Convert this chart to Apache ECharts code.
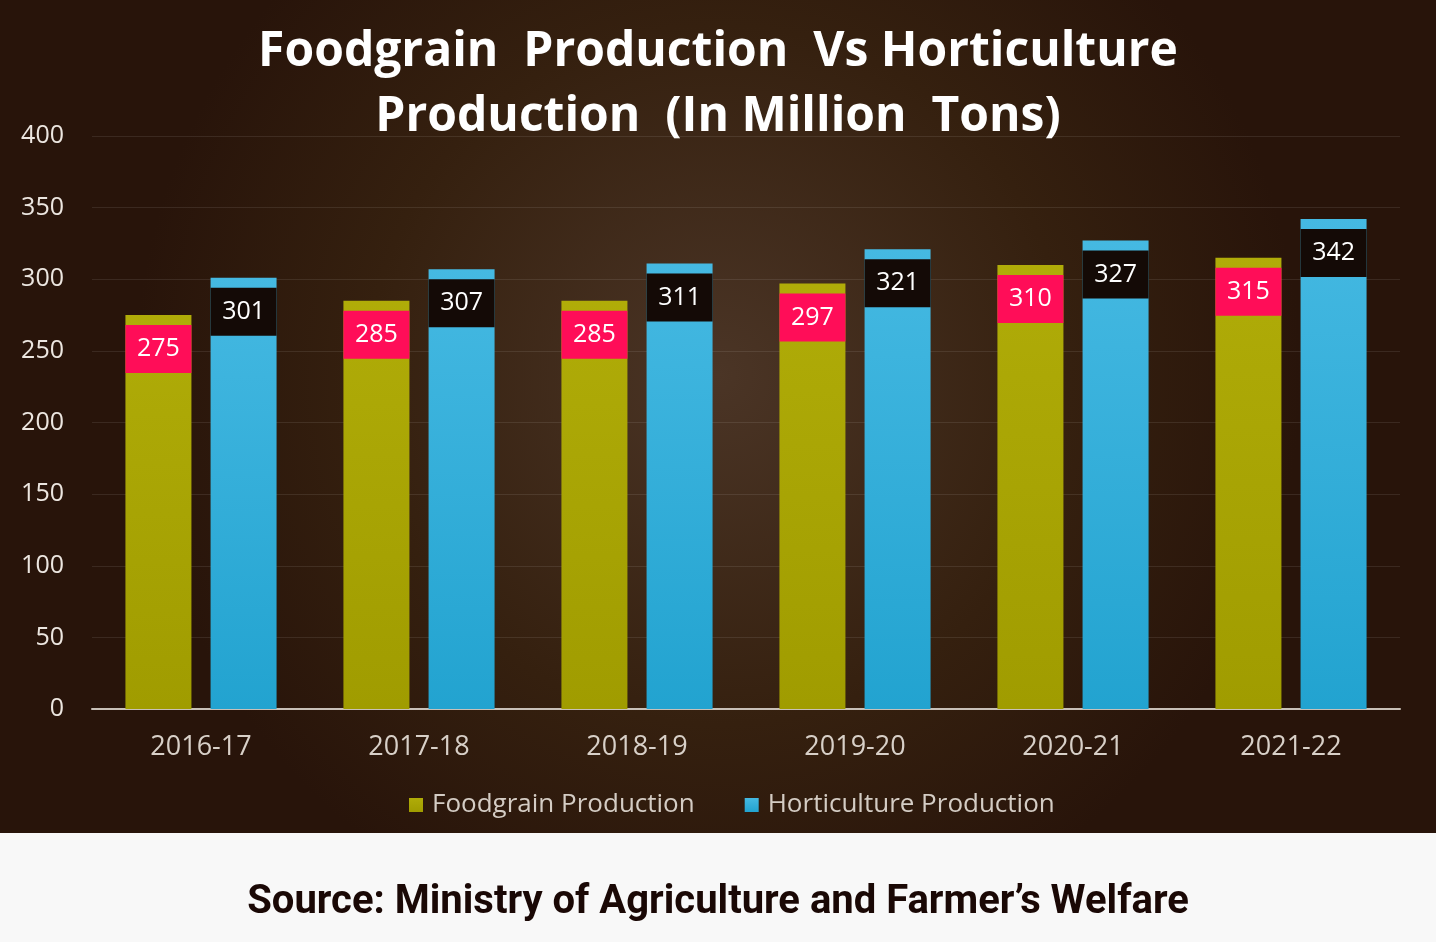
<!DOCTYPE html>
<html><head><meta charset="utf-8">
<script src="https://cdn.jsdelivr.net/npm/echarts@6/dist/echarts.min.js"></script>
<style>html,body{margin:0;padding:0;background:#f8f8f8}#c{width:1436px;height:942px}</style>
</head><body><div id="c"></div>
<script>
const categories = ['2016-17','2017-18','2018-19','2019-20','2020-21','2021-22'];
const foodgrain = [275, 285, 285, 297, 310, 315];
const horticulture = [301, 307, 311, 321, 327, 342];
const yTicks = [0, 50, 100, 150, 200, 250, 300, 350, 400];
const seriesNames = ['Foodgrain Production', 'Horticulture Production'];

const chart = echarts.init(document.getElementById('c'));
const labelBase = {
  show: true, position: 'insideTop', distance: 10,
  width: 66, height: 48, lineHeight: 48, align: 'center',
  color: '#ffffff', fontSize: 25, fontFamily: 'Open Sans'
};
chart.setOption({
  backgroundColor: '#f8f8f8',
  graphic: [
    { type: 'rect', z: -10, silent: true, shape: { x: 0, y: 0, width: 1436, height: 833 },
      style: { fill: new echarts.graphic.RadialGradient(0.5, 0.45, 0.7, [
        { offset: 0, color: '#4b3526' }, { offset: 0.6, color: '#35200f' }, { offset: 1, color: '#28140a' }]) } },
    { type: 'text', left: 'center', top: 883, z: 10,
      style: { text: 'Source: Ministry of Agriculture and Farmer\u2019s Welfare', fill: '#1a0805',
        font: 'bold 40px Roboto' } }
  ],
  title: {
    text: 'Foodgrain  Production  Vs Horticulture\nProduction  (In Million  Tons)',
    left: 'center', top: 15,
    textStyle: { color: '#ffffff', fontSize: 48, fontWeight: 'bold', fontFamily: 'Open Sans', lineHeight: 65 }
  },
  legend: {
    data: seriesNames, bottom: 119, left: 404, itemWidth: 14, itemHeight: 14, itemGap: 50,
    icon: 'rect',
    textStyle: { color: '#d4ccc4', fontSize: 26, fontFamily: 'Open Sans', padding: [0, 0, 0, 4] }
  },
  grid: { left: 92, right: 36, top: 136, bottom: 233, containLabel: false },
  xAxis: {
    type: 'category', data: categories,
    axisLine: { lineStyle: { color: '#c8c0b8', width: 2 } },
    axisTick: { show: false },
    axisLabel: { color: '#d8d0c8', fontSize: 27, fontFamily: 'Open Sans', margin: 25 }
  },
  yAxis: {
    type: 'value', min: 0, max: 400, interval: 50,
    axisLabel: { color: '#ece6e0', fontSize: 25, fontFamily: 'Open Sans', margin: 28,
      formatter: v => yTicks.includes(v) ? String(v) : '' },
    splitLine: { lineStyle: { color: 'rgba(255,255,255,0.09)', width: 1 } },
    axisLine: { show: false }, axisTick: { show: false }
  },
  series: [
    { name: seriesNames[0], type: 'bar', data: foodgrain, barWidth: 66, barGap: '29%',
      itemStyle: { color: new echarts.graphic.LinearGradient(0, 0, 0, 1, [
        { offset: 0, color: '#b0ac08' }, { offset: 1, color: '#a09c00' }]) },
      label: Object.assign({}, labelBase, { backgroundColor: '#ff0d58' }) },
    { name: seriesNames[1], type: 'bar', data: horticulture, barWidth: 66,
      itemStyle: { color: new echarts.graphic.LinearGradient(0, 0, 0, 1, [
        { offset: 0, color: '#45b9e2' }, { offset: 1, color: '#22a3d0' }]) },
      label: Object.assign({}, labelBase, { backgroundColor: '#140a06' }) }
  ]
});
</script></body></html>
